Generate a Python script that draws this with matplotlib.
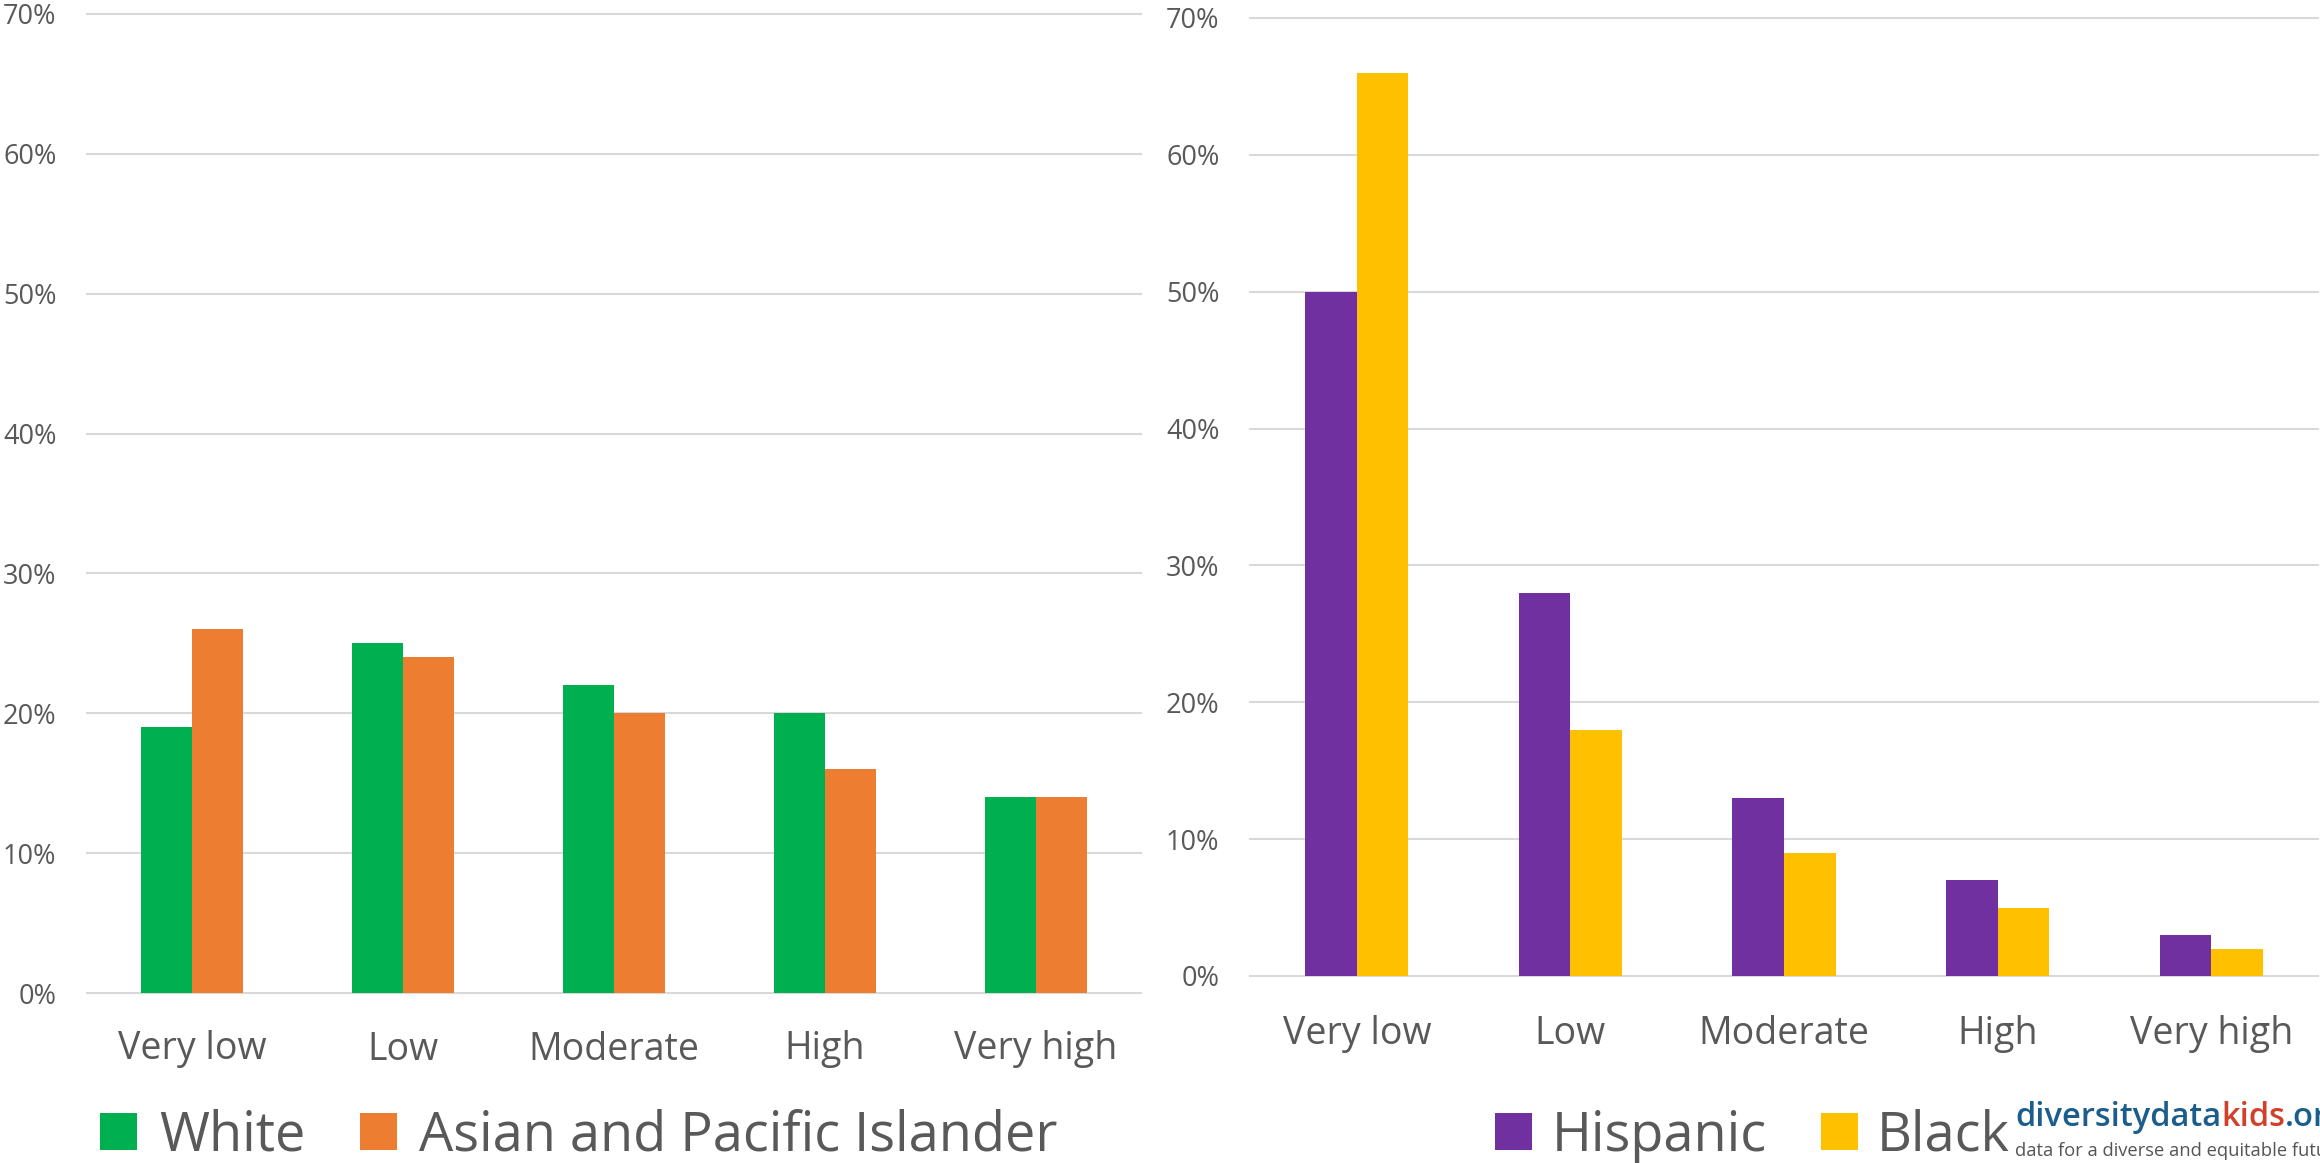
import numpy as np
import matplotlib
matplotlib.use("Agg")
import matplotlib.pyplot as plt
from matplotlib.ticker import PercentFormatter

# Share of children by neighborhood opportunity level
categories = ["Very low", "Low", "Moderate", "High", "Very high"]
white = [0.19, 0.25, 0.22, 0.20, 0.14]
asian_pi = [0.26, 0.24, 0.20, 0.16, 0.14]
hispanic = [0.50, 0.28, 0.13, 0.07, 0.03]
black = [0.66, 0.18, 0.09, 0.05, 0.02]
yticks = [0.0, 0.1, 0.2, 0.3, 0.4, 0.5, 0.6, 0.7]

GREEN = "#00B050"
ORANGE = "#ED7D31"
PURPLE = "#7030A0"
YELLOW = "#FFC000"
TEXT = "#595959"
GRID = "#D9D9D9"

plt.rcParams["font.family"] = ["Open Sans", "DejaVu Sans"]

W, H = 2320, 1163
fig = plt.figure(figsize=(W / 100, H / 100), dpi=100)


def px_axes(x0, x1, y_top, y_bottom):
    return fig.add_axes([x0 / W, 1 - y_bottom / H, (x1 - x0) / W, (y_bottom - y_top) / H])


def style(ax, label_pad):
    ax.set_ylim(0, 0.7)
    ax.set_xlim(-0.5, len(categories) - 0.5)
    ax.set_yticks(yticks)
    ax.yaxis.set_major_formatter(PercentFormatter(1.0, decimals=0))
    ax.set_xticks(np.arange(len(categories)))
    ax.set_xticklabels(categories)
    for s in ax.spines.values():
        s.set_visible(False)
    ax.tick_params(axis="y", length=0, pad=22, labelsize=19.5, labelcolor=TEXT)
    ax.tick_params(axis="x", length=0, pad=label_pad, labelsize=27, labelcolor=TEXT)
    ax.set_axisbelow(True)
    ax.yaxis.grid(True, color=GRID, linewidth=1.5)
    ax.xaxis.grid(False)
    for gl in ax.get_ygridlines():
        gl.set_clip_on(False)
    ax.patch.set_alpha(0)


x = np.arange(len(categories))
bw = 0.242

ax1 = px_axes(87, 1141, 14, 993)
b1 = ax1.bar(x - bw / 2, white, bw, color=GREEN, label="White")
b2 = ax1.bar(x + bw / 2, asian_pi, bw, color=ORANGE, label="Asian and Pacific Islander")
style(ax1, 27)

ax2 = px_axes(1250, 2318, 18, 976)
b3 = ax2.bar(x - bw / 2, hispanic, bw, color=PURPLE, label="Hispanic")
b4 = ax2.bar(x + bw / 2, black, bw, color=YELLOW, label="Black")
style(ax2, 28)

leg_kw = dict(loc="center left", bbox_transform=fig.transFigure, ncol=2, frameon=False,
              fontsize=39, handlelength=0.69, handleheight=0.69,
              borderpad=0, borderaxespad=0, labelcolor=TEXT)
ax1.legend(handles=[b1, b2], bbox_to_anchor=(100 / W, 1 - 1136 / H),
           handletextpad=0.4, columnspacing=1.0, **leg_kw)
ax2.legend(handles=[b3, b4], bbox_to_anchor=(1495 / W, 1 - 1136 / H),
           handletextpad=0.35, columnspacing=1.0, **leg_kw)

# Organisation wordmark in the bottom-right corner
renderer = fig.canvas.get_renderer()
x0, y0 = 2015 / W, 1 - 1126 / H
pieces = [("diversitydata", "#1B5E8C"), ("kids", "#D0402A"), (".org", "#1B5E8C")]
for txt, col in pieces:
    t = fig.text(x0, y0, txt, color=col, fontsize=23.5, fontweight="semibold",
                 ha="left", va="baseline")
    bb = t.get_window_extent(renderer=renderer)
    x0 = bb.x1 / W
fig.text(2015 / W, 1 - 1156 / H, "data for a diverse and equitable future",
         color="#555555", fontsize=13.2, ha="left", va="baseline")

fig.savefig("out.png", dpi=100, facecolor="white")
